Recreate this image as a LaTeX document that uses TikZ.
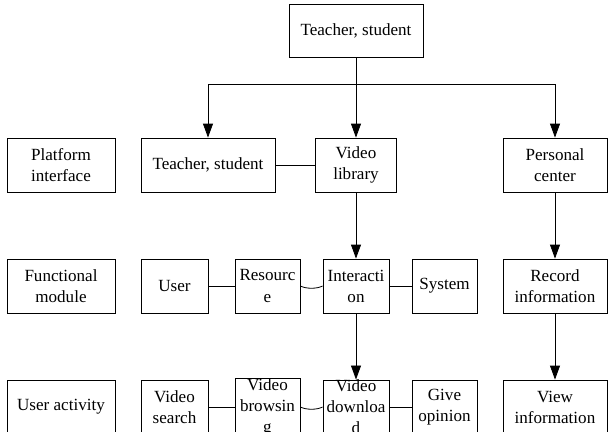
\documentclass[tikz,border=0pt]{standalone}
\usepackage{fontspec}
\setmainfont{Liberation Serif}
\usetikzlibrary{arrows.meta}

\tikzset{
  box/.style={draw, line width=0.6pt, inner sep=0pt, align=center,
    minimum height=40.5pt, font=\rmfamily\fontsize{12.8}{15.8}\selectfont},
  arr/.style={line width=0.6pt, -{Triangle[length=10.5pt,width=7.5pt]}},
  lnk/.style={line width=0.6pt}
}

\begin{document}
\begin{tikzpicture}[x=0.75pt,y=0.75pt,yscale=-1,xscale=1]
\useasboundingbox (0,0) rectangle (608,432);
\clip (0,0) rectangle (608,432);

%Top box
\node [box, minimum width=100.5pt, minimum height=39.75pt] (top) at (356,30.5) {Teacher, student};

%Row: platform interface
\node [box, minimum width=81pt] (plat) at (61,165) {Platform\\interface};
\node [box, minimum width=100.5pt] (ts) at (208,165) {Teacher, student};
\node [box, minimum width=60.75pt] (vlib) at (356,165) {Video\\library};
\node [box, minimum width=78pt] (pc) at (555,165) {Personal\\center};

%Row: functional module
\node [box, minimum width=81pt] (func) at (61,286) {Functional\\module};
\node [box, minimum width=50.25pt] (user) at (174.5,286) {User};
\node [box, minimum width=48.75pt] (res) at (267.5,286) {Resourc\\e};
\node [box, minimum width=49.5pt] (inter) at (356,286) {Interacti\\on};
\node [box, minimum width=48.75pt] (sys) at (444.5,286) {System};
\node [box, minimum width=78pt] (rec) at (555,286) {Record\\information};

%Row: user activity
\node [box, minimum width=81pt] (act) at (61,407) {User activity};
\node [box, minimum width=50.25pt] (vs) at (174.5,407) {Video\\search};
\node [box, minimum width=48.75pt] (vb) at (267.5,407) {Video\\browsin\\g};
\node [box, minimum width=49.5pt] (vd) at (356,407) {Video\\downloa\\d};
\node [box, minimum width=48.75pt] (go) at (444.5,407) {Give\\opinion};
\node [box, minimum width=78pt] (vi) at (555,407) {View\\information};

%Branching from the top box
\coordinate (split) at (356,84);
\draw [lnk] (ts |- split) -- (pc |- split);
\draw [arr] (top.south) -- (vlib.north);
\draw [arr] (ts |- split) -- (ts.north);
\draw [arr] (pc |- split) -- (pc.north);

%Links
\draw [lnk] (ts.east) -- (vlib.west);
\draw [arr] (vlib.south) -- (inter.north);
\draw [arr] (inter.south) -- (vd.north);
\draw [arr] (pc.south) -- (rec.north);
\draw [arr] (rec.south) -- (vi.north);

\draw [lnk] (user.east) -- (res.west);
\draw [lnk] (res.east) .. controls +(6,3) and +(-6,3) .. (inter.west);
\draw [lnk] (inter.east) -- (sys.west);

\draw [lnk] (vs.east) -- (vb.west);
\draw [lnk] (vb.east) .. controls +(6,3) and +(-6,3) .. (vd.west);
\draw [lnk] (vd.east) -- (go.west);

\end{tikzpicture}
\end{document}
